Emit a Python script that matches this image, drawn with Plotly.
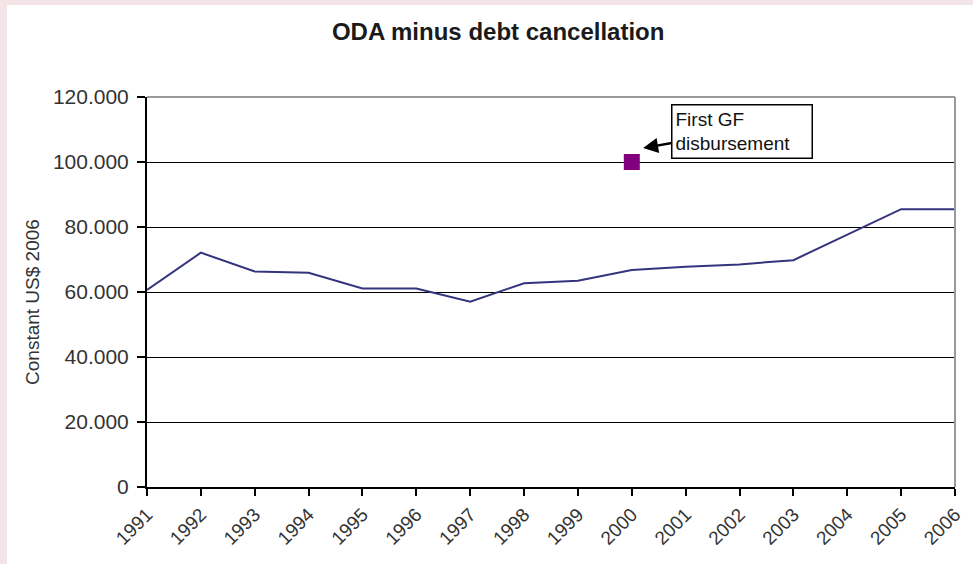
import plotly.graph_objects as go

years = list(range(1991, 2007))
oda_minus_debt = [60600, 72100, 66300, 65900, 61100, 61100, 57000, 62700,
                  63500, 66800, 67800, 68500, 69800, 77600, 85500, 85500]
gf_year = [2000]
gf_value = [100000]
title_text = "ODA minus debt cancellation"
y_title = "Constant US$ 2006"
note_text = "First GF<br>disbursement"

PINK = "#f3e5e7"

fig = go.Figure()
fig.add_trace(go.Scatter(
    x=years, y=oda_minus_debt, mode="lines",
    line=dict(color="#34347e", width=2), showlegend=False, hoverinfo="skip"))
fig.add_trace(go.Scatter(
    x=gf_year, y=gf_value, mode="markers",
    marker=dict(symbol="square", size=16, color="#800080"),
    showlegend=False, hoverinfo="skip"))

# white panel on pink surround
fig.add_shape(type="rect", xref="paper", yref="paper",
              x0=-0.1733, x1=1.03, y0=-0.21, y1=1.2359,
              fillcolor="white", line=dict(width=0), layer="below")
# gray top and right border of plot area
fig.add_shape(type="line", xref="paper", yref="paper", x0=0, x1=1, y0=1, y1=1,
              line=dict(color="#9a9a9a", width=2))
fig.add_shape(type="line", xref="paper", yref="paper", x0=1, x1=1, y0=0, y1=1,
              line=dict(color="#9a9a9a", width=2))

fig.add_annotation(
    x=2000.21, y=104300, xref="x", yref="y",
    text=note_text, align="left", showarrow=True,
    ax=99, ay=-17, arrowhead=2, arrowsize=1.2, arrowwidth=2.5, arrowcolor="black",
    font=dict(family="Arial, Liberation Sans", size=19, color="#111"),
    bordercolor="black", borderwidth=1.5, borderpad=3, bgcolor="white",
    width=133)

fig.add_annotation(
    x=-0.158, y=0.474, xref="paper", yref="paper",
    text=y_title, textangle=-90, showarrow=False,
    font=dict(family="Arial, Liberation Sans", size=19, color="#333"))

fig.update_layout(
    width=973, height=564,
    margin=dict(l=147, r=18, t=97, b=77),
    paper_bgcolor=PINK, plot_bgcolor="white",
    separators=",.",
    title=dict(text="<b>" + title_text + "</b>", x=0.512, xref="container",
               y=1 - 32 / 564, yref="container", xanchor="center", yanchor="middle",
               font=dict(family="Arial, Liberation Sans", size=24, color="#1a1a1a")),
    font=dict(family="Arial, Liberation Sans", color="#222"),
)
fig.update_xaxes(
    range=[1991, 2006], tickmode="array", tickvals=years,
    ticktext=[str(y) for y in years], tickangle=-45,
    ticks="outside", ticklen=7, tickcolor="black", tickwidth=1.5,
    showline=True, linecolor="black", linewidth=2,
    showgrid=False, zeroline=False,
    tickfont=dict(size=19, color="#333"), automargin=False)
fig.update_yaxes(
    range=[0, 120000], tickvals=[0, 20000, 40000, 60000, 80000, 100000, 120000],
    tickformat=",d",
    ticks="outside", ticklen=8, tickcolor="black", tickwidth=1.5,
    showline=True, linecolor="black", linewidth=2,
    showgrid=True, gridcolor="black", gridwidth=1.3, zeroline=False,
    ticklabelstandoff=4,
    tickfont=dict(size=21, color="#333"), automargin=False)

fig.write_html("out.html", config={"displayModeBar": False},
               post_script="document.body.style.margin='0';document.body.style.overflow='hidden';")
